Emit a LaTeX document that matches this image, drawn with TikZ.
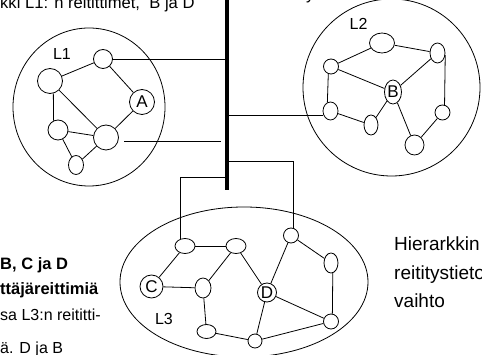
\documentclass[tikz,border=0pt]{standalone}
\usepackage{fontspec}
\setmainfont{Liberation Sans}
\usetikzlibrary{shapes.geometric,calc}
\begin{document}
\begin{tikzpicture}[x=1pt,y=-1pt,
  rt/.style={draw, ellipse, inner sep=0pt, line width=0.8pt, font=\fontsize{17}{17}\selectfont},
  edge/.style={line width=0.8pt},
  area/.style={draw, ellipse, line width=0.8pt, inner sep=0pt},
  lbl/.style={font=\fontsize{16}{16}\selectfont, inner sep=0pt, anchor=base},
  txt/.style={font=\fontsize{16}{16}\selectfont, inner sep=0pt, anchor=base west},
  ttxt/.style={font=\fontsize{16.6}{16.6}\selectfont, inner sep=0pt, anchor=base west},
  btxt/.style={font=\fontsize{16.5}{16.5}\selectfont\bfseries, inner sep=0pt, anchor=base west},
  rtxt/.style={font=\fontsize{19}{19}\selectfont, inner sep=0pt, anchor=base west},
  busline/.style={line width=4pt}]
\useasboundingbox (0,0) rectangle (482,355);
\clip (0,0) rectangle (482,355);

% areas
\node[area, minimum width=152pt, minimum height=158pt] (L1area) at (89,107) {};
\node[area, minimum width=177pt, minimum height=177pt] (L2area) at (391.5,87.5) {};
\node[area, minimum width=248pt, minimum height=150pt] (L3area) at (244,282) {};

% bus
\coordinate (busTop) at (227,0);
\coordinate (busBot) at (227,190);
\draw[busline] (busTop) -- (busBot);

% L1 routers
\node[rt, minimum width=19pt, minimum height=19pt] (n1) at (103,59) {};
\node[rt, minimum width=25pt, minimum height=25pt] (n2) at (50,81) {};
\node[rt, minimum width=25pt, minimum height=25pt] (A) at (142,102) {A};
\node[rt, minimum width=20pt, minimum height=20pt] (n3) at (58,130) {};
\node[rt, minimum width=25pt, minimum height=25pt] (n4) at (106,137.5) {};
\node[rt, minimum width=15pt, minimum height=19pt] (n5) at (76,165) {};
\node[lbl] (L1) at (62,60) {L1};

\draw[edge] (n2) -- (n1);
\draw[edge] (n1) -- (A);
\draw[edge] (n2.285) -- (n3.115);
\draw[edge] (n2) -- (n4);
\draw[edge] (n3) -- (n4);
\draw[edge] (A) -- (n4);
\draw[edge] (n3) -- (n5);
\draw[edge] (n5) -- (n4);

% L2 routers
\node[rt, minimum width=25pt, minimum height=20pt] (p1) at (382,43) {};
\node[rt, minimum width=15pt, minimum height=20pt] (p2) at (437.5,53) {};
\node[rt, minimum width=15pt, minimum height=15pt] (p3) at (331,66.5) {};
\node[rt, minimum width=17pt, minimum height=24pt] (B) at (393,92) {B};
\node[rt, minimum width=15pt, minimum height=18pt] (p4) at (330.5,111) {};
\node[rt, minimum width=14pt, minimum height=20pt] (p5) at (371,125) {};
\node[rt, minimum width=15pt, minimum height=15pt] (p6) at (442.5,112.5) {};
\node[rt, minimum width=19pt, minimum height=20pt] (p7) at (414.5,145) {};
\node[lbl] (L2) at (358.5,30) {L2};

\draw[edge] (p3) -- (p1);
\draw[edge] (p1) -- (p2);
\draw[edge] (p3) -- (B);
\draw[edge] (p2) -- (B);
\draw[edge] (p3.250) -- (p4.110);
\draw[edge] (p4) -- (p5);
\draw[edge] (p5) -- (B);
\draw[edge] (B) -- (p7);
\draw[edge] (p7) -- (p6);
\draw[edge] (p2.-15) -- (p6.75);

% L3 routers
\node[rt, minimum width=20pt, minimum height=15pt] (q1) at (185,246) {};
\node[rt, minimum width=20pt, minimum height=15pt] (q2) at (236,246) {};
\node[rt, minimum width=23pt, minimum height=23pt] (C) at (151.5,286.5) {C};
\node[rt, minimum width=16pt, minimum height=20pt] (q3) at (203,288) {};
\node[rt, minimum width=19pt, minimum height=14pt] (q4) at (206.5,331.5) {};
\node[rt, minimum width=15pt, minimum height=15pt] (q6) at (291,235.5) {};
\node[rt, minimum width=14pt, minimum height=20pt] (q7) at (331,263) {};
\node[rt, minimum width=19pt, minimum height=19pt] (D) at (267,292.5) {D};
\node[rt, minimum width=15pt, minimum height=15pt] (q8) at (331,321.5) {};
\node[rt, minimum width=14pt, minimum height=14pt] (q5) at (255,341) {};
\node[lbl] (L3) at (164,325) {L3};

\draw[edge] (q1) -- (q2);
\draw[edge] (q1) -- (C);
\draw[edge] (C) -- (q3);
\draw[edge] (q2) -- (q3);
\draw[edge] (q3) -- (q4);
\draw[edge] (q4) -- (q5);
\draw[edge] (q2) -- (D);
\draw[edge] (q6) -- (D);
\draw[edge] (q6) -- (q7);
\draw[edge] (q7.-80) -- (q8.80);
\draw[edge] (D) -- (q8);
\draw[edge] (D) -- (q5);
\draw[edge] (q5) -- (q8);

% connections to bus
\draw[edge] (n1.east) -- (n1.east -| busTop);
\coordinate (g1) at (124,141);
\coordinate (g2) at (221,141);
\draw[edge] (g1) -- (g2);
\coordinate (b2) at (227,115);
\draw[edge] (b2) -- (b2 -| p4.west);
\coordinate (b3) at (227,161);
\coordinate (k3) at (293,161);
\draw[edge] (b3) -- (k3) -- (k3 |- q6.north);
\coordinate (b4) at (227,177);
\coordinate (k4) at (180,177);
\draw[edge] (b4) -- (k4) -- ($(k4 |- q1.north)+(0,1)$);

% texts
\node[ttxt] (t1) at (0,9) {kki L1: n reitittimet,~ B ja D};
\node[ttxt] (t0) at (306,0) {y};
\node[btxt] (t2) at (0,270) {B, C ja D};
\node[btxt] (t3) at (0,295) {ttäjäreittimiä};
\node[txt] (t4) at (0,321) {sa L3:n reititti-};
\node[txt] (t5) at (0,353) {ä. D ja B};
\node[rtxt] (t6) at (394,251) {Hierarkkin};
\node[rtxt] (t7) at (394,280) {reititystieto};
\node[rtxt] (t8) at (394,308) {vaihto};
\end{tikzpicture}
\end{document}
